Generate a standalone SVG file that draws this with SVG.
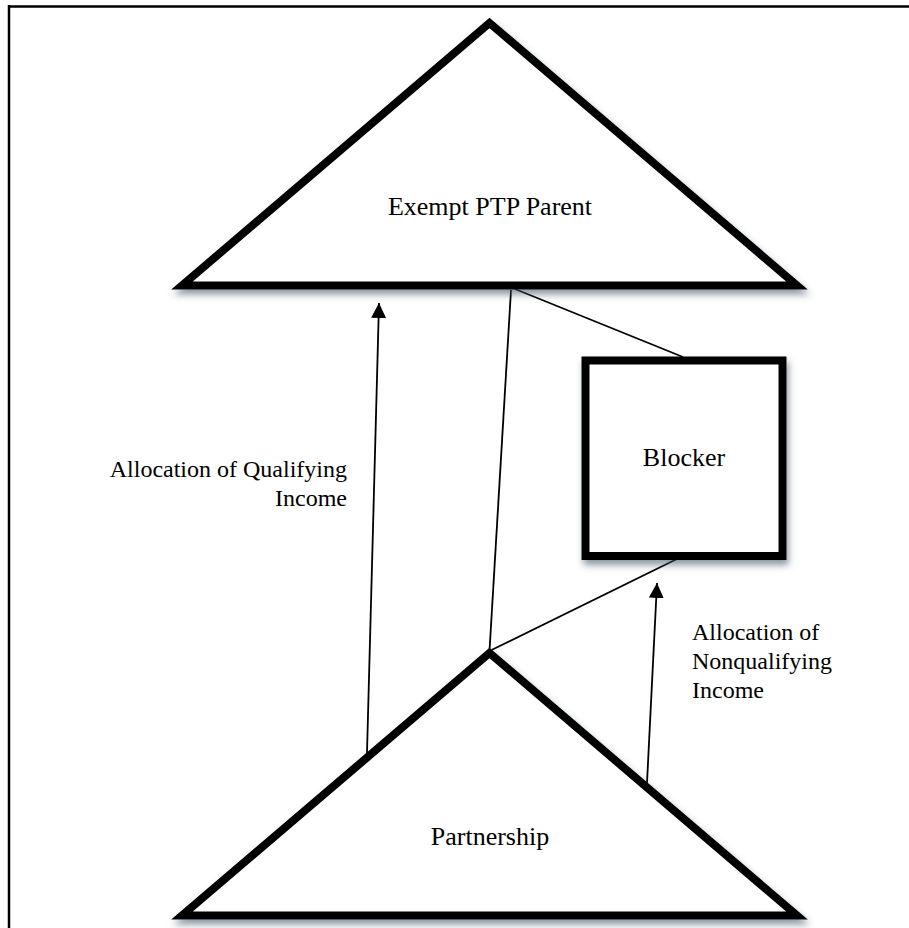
<svg xmlns="http://www.w3.org/2000/svg" width="909" height="928" viewBox="0 0 909 928">
  <style>
    .shape { fill: #ffffff; stroke: #000000; stroke-width: 8; stroke-linejoin: miter; filter: url(#shadow); }
    .conn { stroke: #000000; stroke-width: 1.8; fill: none; }
    .big { font-family: "Liberation Serif", "Times New Roman", serif; font-size: 26px; fill: #000000; text-anchor: middle; }
    .lbl { font-family: "Liberation Serif", "Times New Roman", serif; font-size: 24px; fill: #000000; }
  </style>
  <defs>
    <filter id="shadow" x="-10%" y="-10%" width="120%" height="130%">
      <feDropShadow dx="2" dy="5" stdDeviation="3.5" flood-color="#3a5266" flood-opacity="0.6"/>
    </filter>
    <marker id="arrow" markerUnits="userSpaceOnUse" markerWidth="16" markerHeight="16" refX="15" refY="7.5" orient="auto">
      <path d="M0,0 L15,7.5 L0,15 z" fill="#000000"/>
    </marker>
  </defs>
  <rect x="0" y="0" width="909" height="928" fill="#ffffff"/>
  <g id="frame">
    <line x1="8" y1="6.5" x2="909" y2="6.5" stroke="#000000" stroke-width="2.5"/>
    <line x1="9" y1="5" x2="9" y2="928" stroke="#000000" stroke-width="2.5"/>
  </g>
  <g id="connectors">
    <line class="conn" x1="511" y1="290" x2="489.5" y2="651"/>
    <line class="conn" x1="515" y1="289" x2="683" y2="357"/>
    <line class="conn" x1="489.5" y1="651" x2="683" y2="556"/>
    <line class="conn" x1="367" y1="753" x2="379" y2="303" marker-end="url(#arrow)"/>
    <line class="conn" x1="647" y1="783" x2="657" y2="583" marker-end="url(#arrow)"/>
  </g>
  <g id="exempt-ptp-parent">
    <polygon class="shape" points="489.5,23 797,285.5 182,285.5"/>
    <text class="big" x="490" y="215">Exempt PTP Parent</text>
  </g>
  <g id="blocker">
    <rect class="shape" x="585.5" y="360.5" width="197" height="195.5"/>
    <text class="big" x="684" y="466">Blocker</text>
  </g>
  <g id="partnership">
    <polygon class="shape" points="489.5,653 797,915.5 182,915.5"/>
    <text class="big" x="490" y="845">Partnership</text>
  </g>
  <g id="label-qualifying">
    <text class="lbl" x="347" y="477" text-anchor="end">Allocation of Qualifying</text>
    <text class="lbl" x="347" y="506" text-anchor="end">Income</text>
  </g>
  <g id="label-nonqualifying">
    <text class="lbl" x="692" y="640">Allocation of</text>
    <text class="lbl" x="692" y="669">Nonqualifying</text>
    <text class="lbl" x="692" y="698">Income</text>
  </g>
</svg>
